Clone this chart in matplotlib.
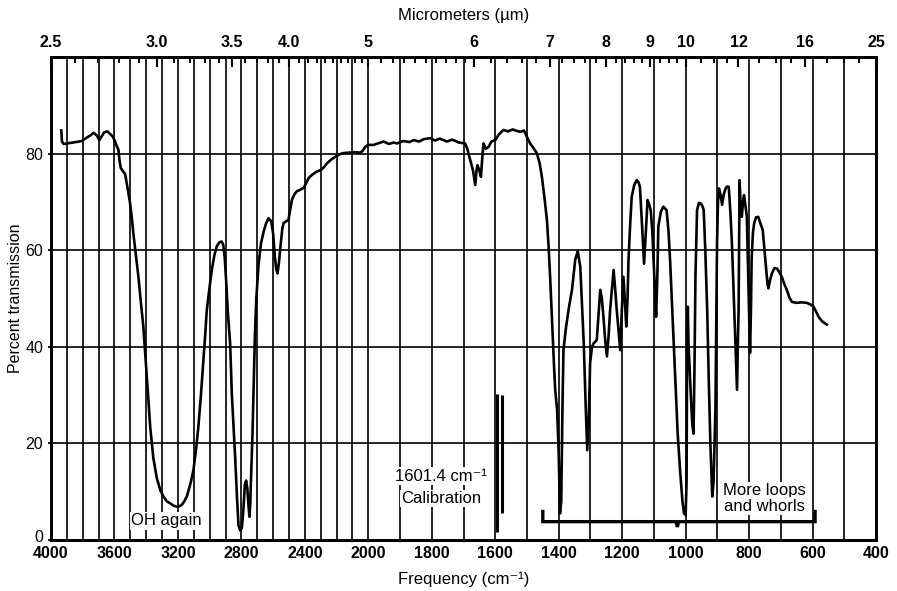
import numpy as np
import matplotlib
matplotlib.use("Agg")
import matplotlib.pyplot as plt
import matplotlib.transforms as mtransforms

# ---------------- data ----------------
freq = [3935, 3931, 3920, 3880, 3840, 3806, 3780, 3750, 3733, 3712, 3695, 3680, 3665, 3645, 3628,
        3610, 3596, 3585, 3575, 3568, 3560, 3545, 3533, 3518, 3502, 3490, 3481, 3465, 3449, 3433,
        3418, 3407, 3396, 3385, 3375, 3355, 3333, 3310, 3291, 3270, 3249, 3228, 3207, 3190, 3175,
        3160, 3144, 3120, 3102, 3085, 3071, 3055, 3039, 3028, 3018, 3000, 2986, 2970, 2955, 2940,
        2925, 2915, 2905, 2895, 2885, 2871, 2860, 2850, 2839, 2828, 2818, 2808, 2797, 2788, 2778,
        2770, 2762, 2755, 2749, 2744, 2740, 2730, 2722, 2715, 2706, 2692, 2676, 2660, 2645, 2629,
        2612, 2600, 2590, 2580, 2572, 2563, 2553, 2542, 2534, 2518, 2503, 2492, 2481, 2465, 2450,
        2430, 2408, 2390, 2377, 2355, 2324, 2300, 2282, 2260, 2240, 2219, 2195, 2170, 2156, 2120,
        2085, 2050, 2035, 2019, 2000, 1983, 1965, 1952, 1935, 1920, 1910, 1890, 1870, 1857, 1840,
        1825, 1805, 1790, 1775, 1752, 1735, 1715, 1695, 1688, 1679, 1670, 1663, 1659, 1656, 1650,
        1645, 1641, 1637, 1630, 1621, 1612, 1600, 1588, 1574, 1560, 1545, 1532, 1521, 1510, 1505,
        1497, 1490, 1480, 1469, 1460, 1453, 1445, 1437, 1432, 1427, 1422, 1418, 1414, 1411, 1405,
        1400, 1396, 1392, 1388, 1385, 1377, 1369, 1363, 1358, 1353, 1348, 1340, 1332, 1326, 1321,
        1315, 1310, 1305, 1301, 1295, 1290, 1280, 1274, 1269, 1264, 1259, 1253, 1248, 1243, 1238,
        1232, 1227, 1222, 1217, 1211, 1206, 1201, 1196, 1191, 1187, 1183, 1180, 1175, 1170, 1162,
        1154, 1148, 1144, 1138, 1131, 1126, 1120, 1115, 1110, 1105, 1102, 1097, 1093, 1089, 1086,
        1078, 1070, 1060, 1054, 1049, 1041, 1033, 1025, 1017, 1010, 1005, 1000, 997, 995, 993,
        991, 985, 979, 975, 972, 969, 966, 964, 958, 953, 948, 943, 938, 932, 927,
        922, 916, 912, 906, 901, 898, 895, 890, 885, 880, 874, 869, 864, 859, 854,
        848, 843, 838, 835, 833, 830, 827, 823, 819, 816, 811, 807, 802, 797, 794,
        792, 788, 784, 778, 771, 764, 757, 750, 746, 742, 739, 734, 728, 720, 712,
        705, 697, 689, 681, 673, 665, 650, 635, 618, 605, 597, 588, 581, 570, 562, 555]
trans = [84.8, 82.5, 82.0, 82.2, 82.4, 82.6, 83.2, 83.8, 84.3, 83.8, 82.8, 83.6, 84.4, 84.6, 84.1,
         83.5, 82.5, 81.5, 80.8, 78.5, 77.0, 76.3, 75.8, 73.0, 69.8, 66.5, 63.5, 59.0, 54.5, 49.0,
         44.2, 39.0, 33.8, 28.5, 23.5, 17.0, 12.8, 10.2, 9.0, 8.0, 7.6, 7.1, 6.9, 7.0, 7.3,
         8.0, 9.0, 11.8, 14.5, 19.0, 23.5, 30.0, 37.3, 42.5, 47.6, 52.5, 56.0, 59.0, 60.8, 61.6,
         61.8, 61.2, 58.5, 53.0, 47.0, 40.7, 30.0, 24.0, 17.0, 9.0, 3.0, 2.0, 2.5, 6.0, 11.5,
         12.3, 10.5, 7.0, 4.8, 7.5, 12.0, 22.0, 33.0, 42.0, 50.0, 57.0, 61.5, 63.8, 65.5, 66.6,
         66.0, 63.5, 59.0, 56.0, 55.2, 57.5, 61.0, 64.5, 65.6, 66.0, 66.3, 68.5, 70.5, 71.6, 72.2,
         72.5, 72.9, 74.0, 74.9, 75.6, 76.3, 76.6, 77.1, 78.0, 78.6, 79.1, 79.6, 80.0, 80.1, 80.2,
         80.3, 80.2, 80.6, 81.4, 81.8, 81.8, 82.2, 82.5, 82.0, 82.3, 82.1, 82.6, 82.4, 82.8, 82.5,
         83.0, 83.2, 82.7, 83.1, 82.5, 82.9, 82.3, 82.1, 81.0, 78.7, 76.5, 73.5, 76.5, 77.6, 76.5,
         75.2, 79.0, 82.1, 81.0, 81.4, 82.5, 82.8, 84.0, 84.9, 84.6, 85.0, 84.7, 84.5, 84.8, 84.2,
         83.0, 82.1, 81.2, 80.1, 78.0, 75.2, 71.0, 66.2, 61.0, 54.5, 47.0, 40.7, 35.0, 31.1, 27.0,
         18.0, 5.5, 8.0, 28.0, 39.3, 44.0, 47.6, 50.0, 51.8, 55.0, 58.0, 59.8, 56.6, 48.0, 40.7,
         28.0, 18.6, 25.5, 36.6, 40.0, 40.7, 41.4, 47.0, 51.8, 50.0, 46.2, 41.0, 38.0, 42.0, 47.6,
         52.0, 55.9, 52.0, 47.6, 43.0, 39.3, 47.6, 54.5, 49.0, 44.2, 50.0, 58.0, 65.0, 71.0, 73.5,
         74.5, 74.0, 73.1, 66.0, 57.2, 63.0, 70.4, 69.5, 68.3, 64.0, 59.3, 52.0, 46.2, 55.0, 64.9,
         68.0, 69.0, 68.3, 64.0, 58.0, 46.0, 34.0, 22.0, 14.0, 8.0, 5.5, 5.2, 12.0, 45.0, 48.3,
         40.7, 32.0, 24.0, 22.0, 36.0, 54.5, 63.0, 68.3, 69.8, 69.7, 69.3, 68.3, 60.0, 47.6, 33.0,
         20.0, 9.0, 12.0, 27.0, 61.4, 70.0, 72.8, 71.5, 69.4, 71.5, 72.8, 73.2, 73.1, 68.0, 61.4,
         50.0, 40.7, 31.1, 42.0, 47.6, 74.5, 70.0, 66.9, 70.0, 71.4, 69.0, 66.9, 53.1, 38.7, 48.0,
         58.0, 63.5, 65.6, 66.8, 66.9, 65.5, 64.2, 59.0, 55.9, 53.0, 52.1, 53.8, 55.2, 56.3, 56.2,
         55.5, 54.5, 53.0, 51.8, 50.2, 49.3, 49.1, 49.2, 49.1, 48.7, 48.3, 47.2, 46.2, 45.3, 44.9, 44.6]

# calibration marks (cm-1) and their extent (% transmission)
calib_freq = [1593, 1579]
calib_top = [30.3, 30.0]
calib_bottom = [1.7, 5.5]

# bracket under the fingerprint region
brace_freq = [1450, 1450, 1030, 1026, 1022, 592, 592]
brace_trans = [5.9, 3.8, 3.8, 2.7, 3.8, 3.8, 5.9]

freq_labels = [4000, 3600, 3200, 2800, 2400, 2000, 1800, 1600, 1400, 1200, 1000, 800, 600, 400]
freq_grid = list(range(3900, 400, -100))
um_labels = [2.5, 3.0, 3.5, 4.0, 5, 6, 7, 8, 9, 10, 12, 16, 25]
um_label_text = ["2.5", "3.0", "3.5", "4.0", "5", "6", "7", "8", "9", "10", "12", "16", "25"]
um_minor = ([round(2.5 + 0.1 * i, 2) for i in range(36)]
            + [round(6.0 + 0.2 * i, 2) for i in range(15)]
            + [9.25, 9.5, 9.75, 10.5, 11, 11.5, 13, 14, 15, 18, 20, 22])
trans_ticks = [0, 20, 40, 60, 80]

# --------------- style ---------------
FAM = ["Liberation Sans Narrow", "Liberation Sans", "DejaVu Sans"]
FAM2 = ["Liberation Sans", "DejaVu Sans"]
plt.rcParams["font.family"] = FAM2


def fwd(nu):
    nu = np.asarray(nu, dtype=float)
    return np.where(nu >= 2000, nu / 2.0, nu - 1000.0)


def inv(u):
    u = np.asarray(u, dtype=float)
    return np.where(u >= 1000, u * 2.0, u + 1000.0)


fig = plt.figure(figsize=(8.97, 5.91), dpi=100)
ax = fig.add_axes([51 / 897, 51 / 591, 825 / 897, 483 / 591])
ax.set_xscale("function", functions=(fwd, inv))
ax.set_xlim(4000, 400)
ax.set_ylim(0, 100)

ax.set_xticks(freq_labels)
ax.set_xticklabels([str(v) for v in freq_labels], family=FAM, weight="bold", fontsize=11.5)
ax.set_xticks(freq_grid, minor=True)
ax.set_yticks(trans_ticks)
ax.set_yticklabels([str(v) for v in trans_ticks], fontsize=11.5)
ax.tick_params(axis="x", which="both", length=0, pad=4)
ax.tick_params(axis="y", length=2.5, width=1.3, pad=3)
ax.set_axisbelow(True)
ax.grid(True, which="both", axis="x", color="black", lw=1.2)
ax.grid(True, which="major", axis="y", color="black", lw=1.2)
for s in ax.spines.values():
    s.set_linewidth(2)

# nudge the "0" label up slightly so it clears the "4000" label
zero_lbl = ax.get_yticklabels()[0]
zero_lbl.set_transform(zero_lbl.get_transform()
                       + mtransforms.ScaledTranslation(0, 3 / 72, fig.dpi_scale_trans))

# spectrum
ax.plot(freq, trans, color="black", lw=1.9, zorder=4, solid_joinstyle="round")
# calibration marks
ax.vlines(calib_freq, calib_bottom, calib_top, color="black", lw=2.2, zorder=4)
# brace
ax.plot(brace_freq, brace_trans, color="black", lw=2.4, zorder=4, solid_joinstyle="miter")

bb = dict(facecolor="white", edgecolor="none", pad=1.0)
ax.text(3274, 4.0, "OH again", ha="center", va="center", fontsize=12, bbox=bb, zorder=3)
ax.text(1770, 13.2, "1601.4 cm\u207b\u00b9", ha="center", va="center", fontsize=12,
        family=FAM2, bbox=bb, zorder=3)
ax.text(1770, 8.6, "Calibration", ha="center", va="center", fontsize=12, bbox=bb, zorder=3)
ax.text(753, 10.2, "More loops", ha="center", va="center", fontsize=12, bbox=bb, zorder=3)
ax.text(753, 7.0, "and whorls", ha="center", va="center", fontsize=12, bbox=bb, zorder=3)

ax.set_ylabel("Percent transmission", fontsize=11.5, labelpad=2)
ax.set_xlabel("Frequency (cm\u207b\u00b9)", fontsize=12, labelpad=8)

# top micrometer axis
ax2 = ax.twiny()
ax2.set_xscale("function", functions=(fwd, inv))
ax2.set_xlim(4000, 400)
ax2.set_xticks([1e4 / u for u in um_labels])
ax2.set_xticklabels(um_label_text, family=FAM, weight="bold", fontsize=11.5)
ax2.set_xticks([1e4 / u for u in um_minor], minor=True)
ax2.tick_params(axis="x", which="major", direction="in", length=7, width=1.5, pad=5)
ax2.tick_params(axis="x", which="minor", direction="in", length=4.5, width=1.5)
ax2.set_xlabel("Micrometers (\u00b5m)", fontsize=12, labelpad=11)
for s in ax2.spines.values():
    s.set_linewidth(2)

fig.savefig("out.png", dpi=100, facecolor="white")
